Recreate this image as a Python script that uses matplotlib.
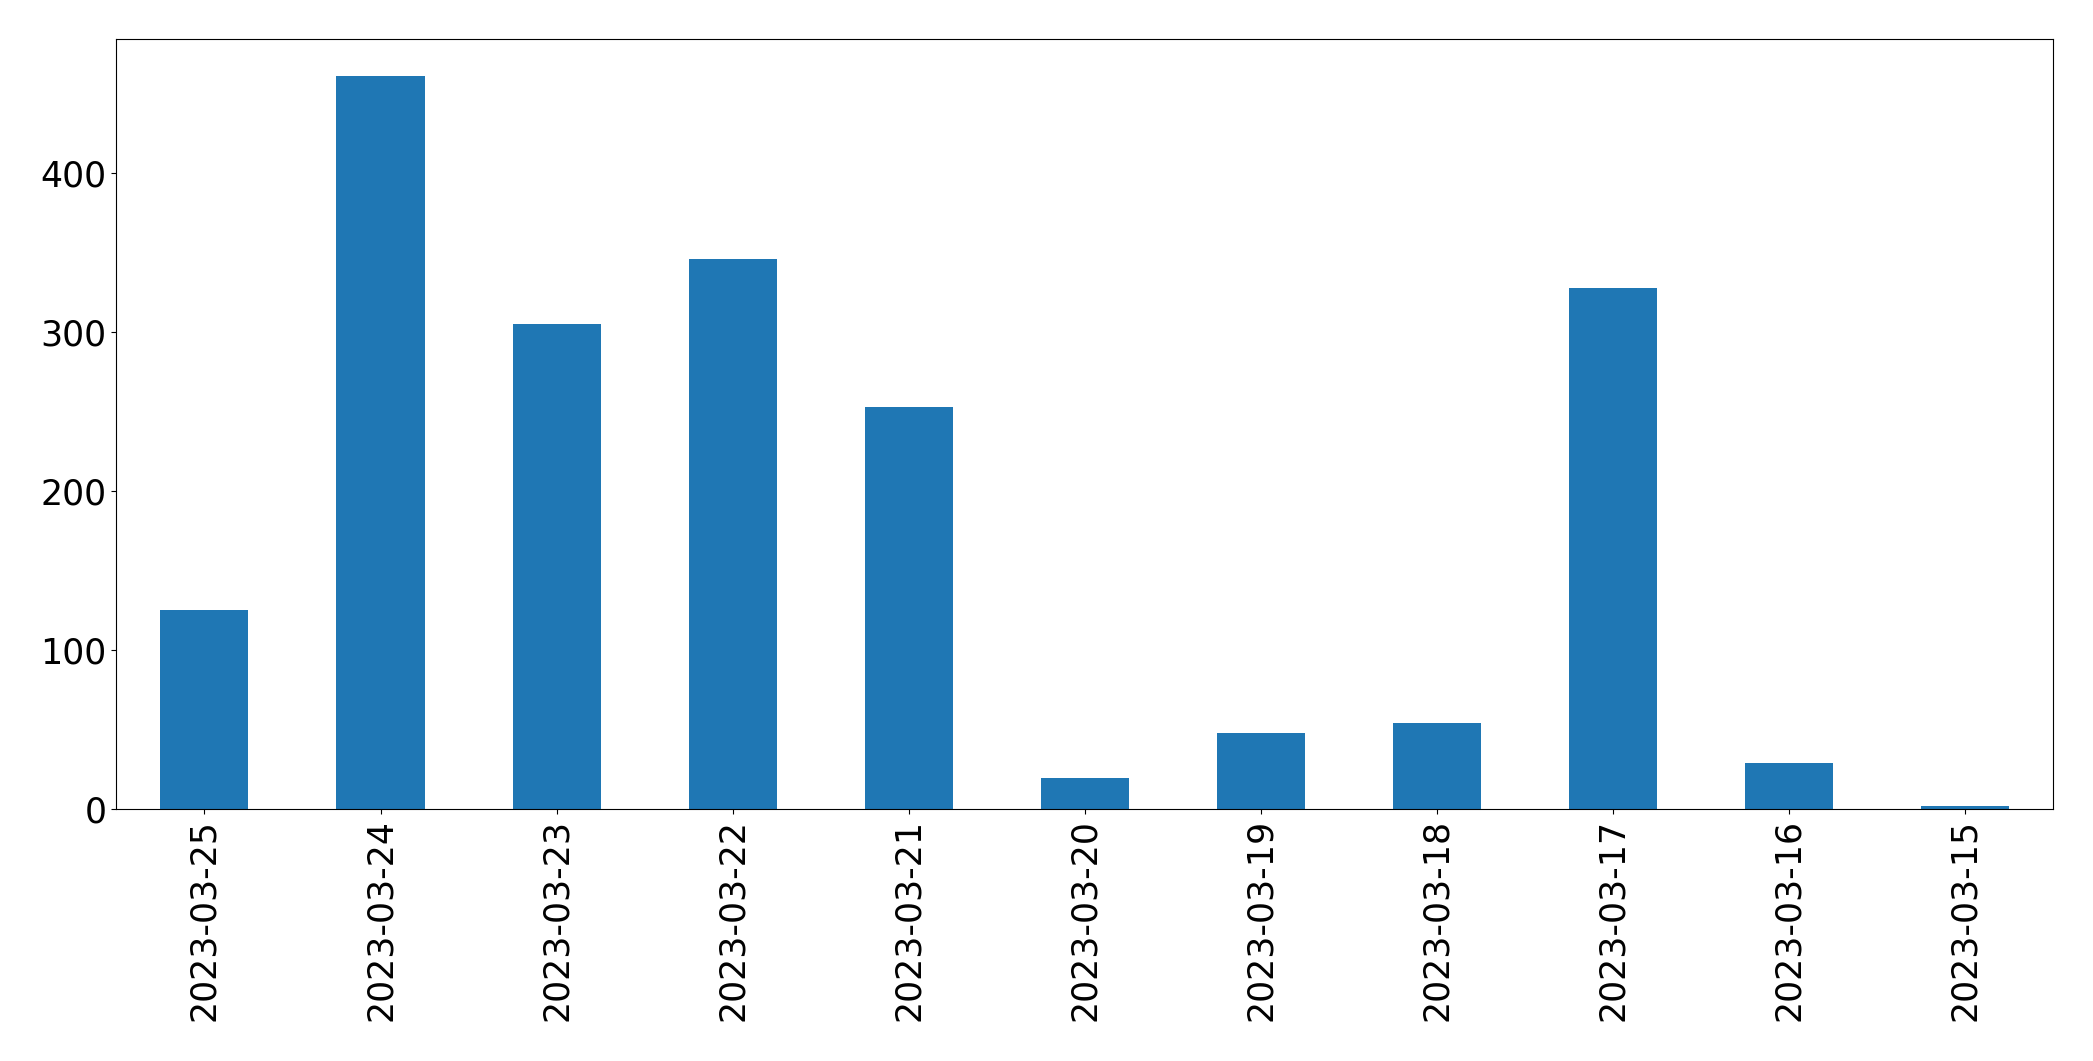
import matplotlib
matplotlib.use("Agg")
import matplotlib.pyplot as plt
import pandas as pd


# dates (x categories) and counts per day
dates  = ["2023-03-25", "2023-03-24", "2023-03-23", "2023-03-22", "2023-03-21", "2023-03-20",
          "2023-03-19", "2023-03-18", "2023-03-17", "2023-03-16", "2023-03-15"]
counts = [125, 461, 305, 346, 253, 20, 48, 54, 328, 29, 2]


s = pd.Series(counts, index=dates)

fig, ax = plt.subplots(figsize=(20.93, 10.61), dpi=100)
fig.subplots_adjust(left=0.0556, right=0.9811, bottom=0.2372, top=0.963)

s.plot.bar(ax=ax, color="#1f77b4")
ax.tick_params(axis="both", labelsize=25)
ax.set_xlabel("")

plt.savefig("out.png", dpi=100)
